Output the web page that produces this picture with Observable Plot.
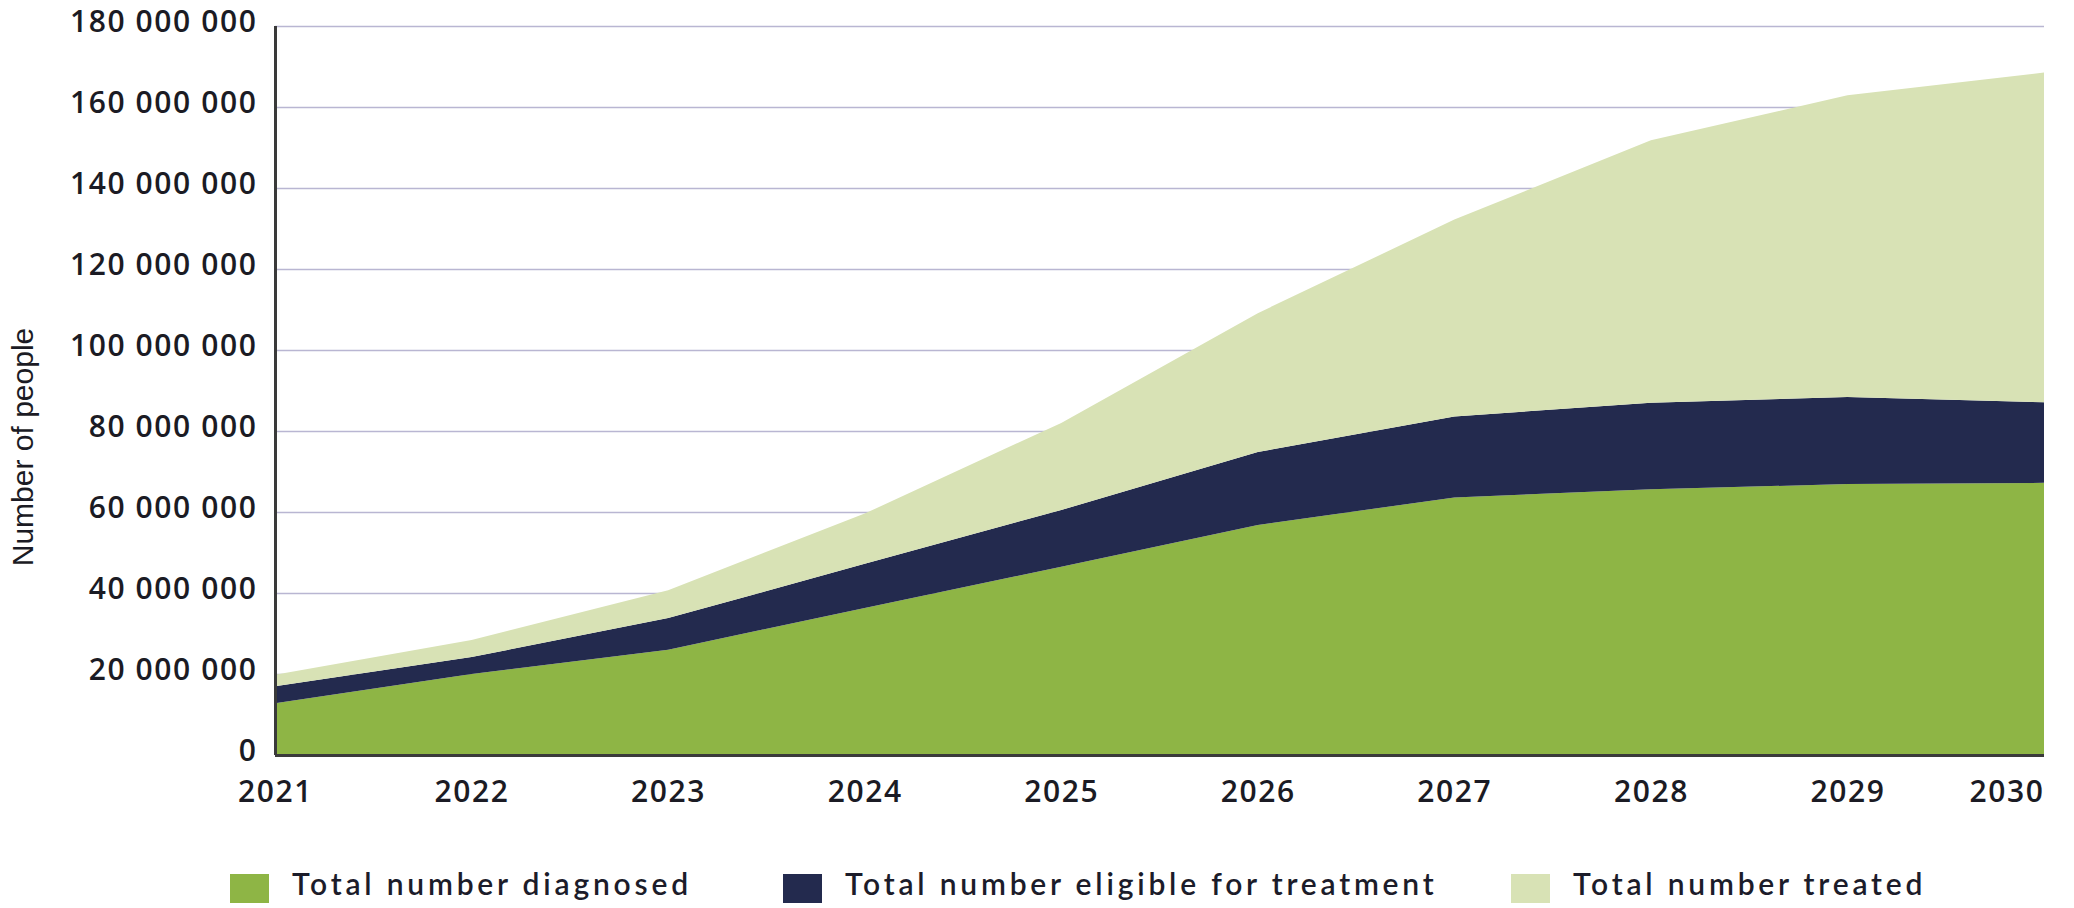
<!DOCTYPE html>
<html>
<head>
<meta charset="utf-8">
<script src="https://cdn.jsdelivr.net/npm/d3@7"></script>
<script src="https://cdn.jsdelivr.net/npm/@observablehq/plot@0.6"></script>
<style>
  html, body { margin: 0; padding: 0; background: #ffffff; }
  body { width: 2074px; height: 908px; position: relative; overflow: hidden; }
  #chart svg { display: block; }
  #chart g[aria-label="y-axis tick label"] { font-family: "Open Sans", "DejaVu Sans", sans-serif; font-weight: 600; letter-spacing: 1.6px; }
  #chart g[aria-label="x-axis tick label"] { font-family: "Open Sans", "DejaVu Sans", sans-serif; font-weight: 600; letter-spacing: 1.6px; }
  #chart g[aria-label="y-axis label"] { font-family: "Liberation Sans", Arial, sans-serif; font-size: 30px; translate: 2px 56px; }
  .legend-item { position: absolute; top: 865px; display: flex; align-items: flex-start; }
  .legend-swatch { width: 39px; height: 29px; margin-top: 9px; margin-right: 23px; }
  .legend-text { font-family: Lato, "Noto Sans", sans-serif; font-weight: 600; font-size: 30px; line-height: 36px; letter-spacing: 3.8px; color: #1c1c2a; white-space: nowrap; }
</style>
</head>
<body>
<div id="chart"></div>
<div id="legend"></div>
<script>
// ---- data ----
const years = [2021, 2022, 2023, 2024, 2025, 2026, 2027, 2028, 2029, 2030];
const diagnosed = [12.8e6, 20.0e6, 26.0e6, 36.3e6, 46.5e6, 56.8e6, 63.6e6, 65.6e6, 66.9e6, 67.2e6];
const eligible  = [4.2e6, 4.2e6, 7.8e6, 10.9e6, 14.0e6, 18.0e6, 20.0e6, 21.4e6, 21.5e6, 19.9e6];
const treated   = [2.8e6, 4.2e6, 6.9e6, 12.4e6, 21.5e6, 34.3e6, 48.6e6, 64.8e6, 74.5e6, 81.4e6];
const seriesNames = ["Total number diagnosed", "Total number eligible for treatment", "Total number treated"];
const seriesColors = ["#8eb545", "#232a4e", "#d8e2b5"];
const yTicks = [0, 20e6, 40e6, 60e6, 80e6, 100e6, 120e6, 140e6, 160e6, 180e6];
const legendLeft = [230, 783, 1511];

// ---- build table ----
const seriesValues = [diagnosed, eligible, treated];
const rows = years.flatMap((year, i) =>
  seriesNames.map((series, s) => ({ year, series, value: seriesValues[s][i] }))
);
const fmt = d => d3.format(",")(d).replace(/,/g, " ");
const yearFmt = d => String(d);

const chart = Plot.plot({
  width: 2074,
  height: 830,
  marginLeft: 275,
  marginRight: 30,
  marginTop: 26,
  marginBottom: 75,
  x: { type: "linear", domain: [2021, 2030] },
  y: { domain: [0, 180e6] },
  color: { domain: seriesNames, range: seriesColors },
  style: { fontFamily: "'Open Sans', 'DejaVu Sans', sans-serif", fontSize: "30px", color: "#1b1b24", background: "#ffffff" },
  marks: [
    Plot.gridY(yTicks.filter(d => d > 0), { stroke: "#b9b6d2", strokeOpacity: 1, strokeWidth: 1.6 }),
    Plot.areaY(rows, { x: "year", y: "value", fill: "series", order: seriesNames }),
    Plot.ruleY([0], { stroke: "#3a3a3a", strokeWidth: 3 }),
    Plot.ruleX([2021], { stroke: "#3a3a3a", strokeWidth: 3 }),
    Plot.axisY(yTicks, {
      tickSize: 0, tickPadding: 18, tickFormat: fmt, dy: -4,
      label: "Number of people", labelAnchor: "center", labelArrow: "none", labelOffset: 266
    }),
    Plot.axisX(years.slice(0, -1), { tickSize: 0, tickPadding: 25, tickFormat: yearFmt, label: null }),
    Plot.axisX(years.slice(-1), { tickSize: 0, tickPadding: 25, tickFormat: yearFmt, textAnchor: "end", label: null })
  ]
});
document.getElementById("chart").appendChild(chart);

// ---- legend ----
const legend = document.getElementById("legend");
seriesNames.forEach((name, i) => {
  const item = document.createElement("div");
  item.className = "legend-item";
  item.style.left = legendLeft[i] + "px";
  const sw = document.createElement("span");
  sw.className = "legend-swatch";
  sw.style.background = seriesColors[i];
  const tx = document.createElement("span");
  tx.className = "legend-text";
  tx.textContent = name;
  item.appendChild(sw);
  item.appendChild(tx);
  legend.appendChild(item);
});
</script>
</body>
</html>
